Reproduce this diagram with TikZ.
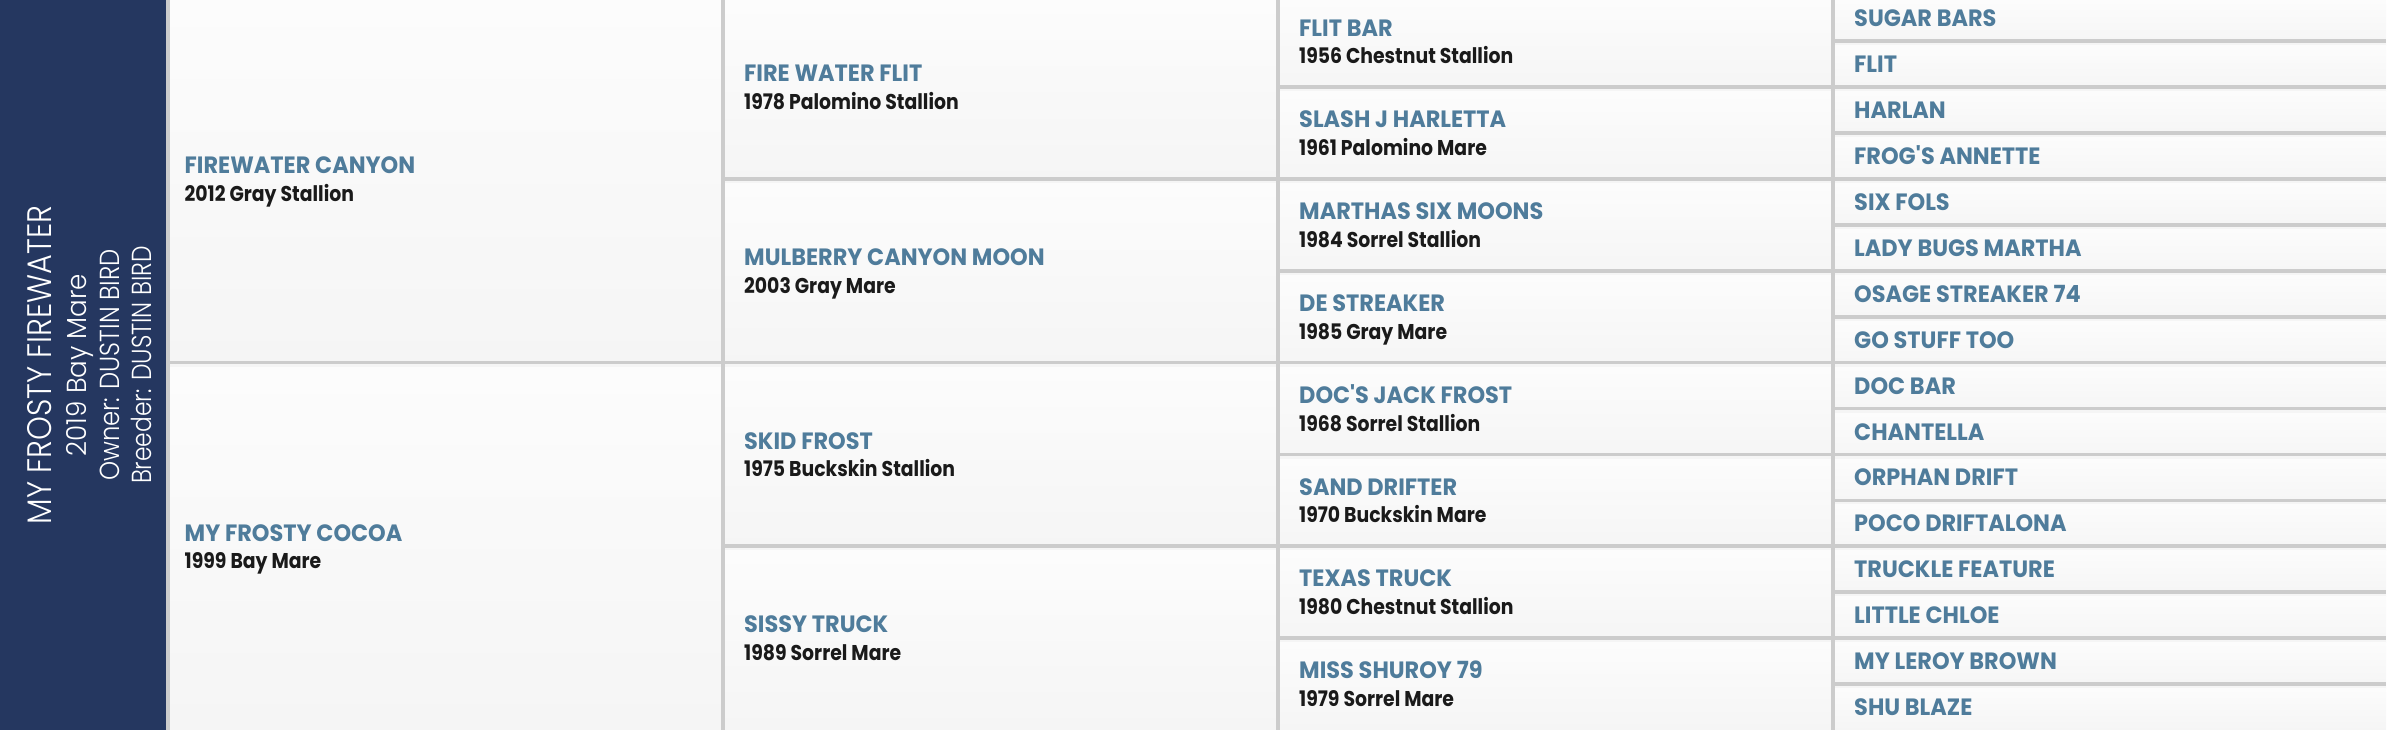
\documentclass[tikz,border=0pt]{standalone}
\usepackage{fontspec}
\setmainfont{Poppins}
\newfontfamily\namefont{Poppins}[FakeStretch=0.95]
\newfontfamily\detfont{Poppins}[FakeStretch=0.88]
\newfontfamily\panelfont{Poppins Light}[FakeStretch=0.85]
\definecolor{panelblue}{HTML}{253760}
\definecolor{namecol}{HTML}{4F7C9B}
\definecolor{gridcol}{HTML}{CCCCCC}
\definecolor{cellhi}{HTML}{FCFCFC}
\definecolor{celllo}{HTML}{F5F5F5}
\definecolor{dettext}{HTML}{1A1A1A}
\newcommand\horsecell[5]{%
  \pgfmathsetmacro\hx{166+555*(#2-1)+((#2==1)?20:24.5)-1.5}%
  \pgfmathsetmacro\hH{734.4/(2^#2)}%
  \pgfmathsetmacro\hc{(#3+0.5)*\hH-4.6}%
  \node[nm] (#1n) at (\hx,\hc-5.2) {#4};
  \node[dt] (#1d) at (\hx,\hc+22.5) {#5};
}
\newcommand\horseone[3]{%
  \pgfmathsetmacro\hx{166+555*3+24.5-1.5}%
  \pgfmathsetmacro\hc{(#2+0.5)*45.9-4.6}%
  \node[nm] (#1) at (\hx,\hc+8.6) {#3};
}
\begin{document}
\begin{tikzpicture}[x=1pt,y=-1pt,
  nm/.style={anchor=base west,inner sep=0pt,text=namecol,font=\namefont\bfseries\fontsize{23.6}{26}\selectfont},
  dt/.style={anchor=base west,inner sep=0pt,text=dettext,font=\detfont\bfseries\fontsize{21.4}{24}\selectfont},
  cellbg/.style={top color=cellhi,bottom color=celllo,draw=none},
  gridline/.style={draw=gridcol,line width=3.6pt},
  paneltxt/.style={rotate=90,anchor=base,inner sep=0pt,text=white},
]
\useasboundingbox (0,0) rectangle (2388,730);
% cell backgrounds
\foreach \c in {1,2,3,4}{
  \pgfmathtruncatemacro\nr{2^\c}
  \pgfmathsetmacro\HH{734.4/\nr}
  \pgfmathtruncatemacro\last{\nr-1}
  \foreach \r in {0,...,\last}{
    \path[cellbg] ({166+555*(\c-1)},{\r*\HH}) rectangle ({166+555*\c},{min((\r+1)*\HH,730)});
  }
}
% horizontal grid lines
\foreach \c in {1,2,3,4}{
  \pgfmathtruncatemacro\nr{2^\c}
  \pgfmathsetmacro\HH{734.4/\nr}
  \pgfmathtruncatemacro\last{\nr-1}
  \foreach \r in {1,...,\last}{
    \draw[gridline] ({166+555*(\c-1)},{\r*\HH-4.6}) -- ({166+555*\c},{\r*\HH-4.6});
  }
}
% vertical grid lines
\foreach \c in {1,2,3,4}{
  \draw[gridline] ({168+555*(\c-1)},0) -- ({168+555*(\c-1)},730);
}
% left panel
\fill[panelblue] (0,0) rectangle (166,730);
\node[paneltxt,font=\panelfont\fontsize{34}{36}\selectfont] (title) at (51,365) {\scalebox{1.05}[1]{MY FROSTY FIREWATER}};
\node[paneltxt,font=\panelfont\fontsize{27.5}{30}\selectfont] (birth) at (86,365) {\scalebox{1.12}[1]{2019 Bay Mare}};
\node[paneltxt,font=\panelfont\fontsize{27.5}{30}\selectfont] (owner) at (119.3,365) {\scalebox{1.04}[1]{Owner: DUSTIN BIRD}};
\node[paneltxt,font=\panelfont\fontsize{27.5}{30}\selectfont] (breeder) at (151.7,365) {Breeder: DUSTIN BIRD};
% generation 1
\horsecell{s}{1}{0}{FIREWATER CANYON}{2012 Gray Stallion}
\horsecell{d}{1}{1}{MY FROSTY COCOA}{1999 Bay Mare}
% generation 2
\horsecell{ss}{2}{0}{FIRE WATER FLIT}{1978 Palomino Stallion}
\horsecell{sd}{2}{1}{MULBERRY CANYON MOON}{2003 Gray Mare}
\horsecell{ds}{2}{2}{SKID FROST}{1975 Buckskin Stallion}
\horsecell{dd}{2}{3}{SISSY TRUCK}{1989 Sorrel Mare}
% generation 3
\horsecell{sss}{3}{0}{FLIT BAR}{1956 Chestnut Stallion}
\horsecell{ssd}{3}{1}{SLASH J HARLETTA}{1961 Palomino Mare}
\horsecell{sds}{3}{2}{MARTHAS SIX MOONS}{1984 Sorrel Stallion}
\horsecell{sdd}{3}{3}{DE STREAKER}{1985 Gray Mare}
\horsecell{dss}{3}{4}{DOC'S JACK FROST}{1968 Sorrel Stallion}
\horsecell{dsd}{3}{5}{SAND DRIFTER}{1970 Buckskin Mare}
\horsecell{dds}{3}{6}{TEXAS TRUCK}{1980 Chestnut Stallion}
\horsecell{ddd}{3}{7}{MISS SHUROY 79}{1979 Sorrel Mare}
% generation 4
\horseone{g1}{0}{SUGAR BARS}
\horseone{g2}{1}{FLIT}
\horseone{g3}{2}{HARLAN}
\horseone{g4}{3}{FROG\textquotesingle S ANNETTE}
\horseone{g5}{4}{SIX FOLS}
\horseone{g6}{5}{LADY BUGS MARTHA}
\horseone{g7}{6}{OSAGE STREAKER 74}
\horseone{g8}{7}{GO STUFF TOO}
\horseone{g9}{8}{DOC BAR}
\horseone{g10}{9}{CHANTELLA}
\horseone{g11}{10}{ORPHAN DRIFT}
\horseone{g12}{11}{POCO DRIFTALONA}
\horseone{g13}{12}{TRUCKLE FEATURE}
\horseone{g14}{13}{LITTLE CHLOE}
\horseone{g15}{14}{MY LEROY BROWN}
\horseone{g16}{15}{SHU BLAZE}
\end{tikzpicture}
\end{document}
